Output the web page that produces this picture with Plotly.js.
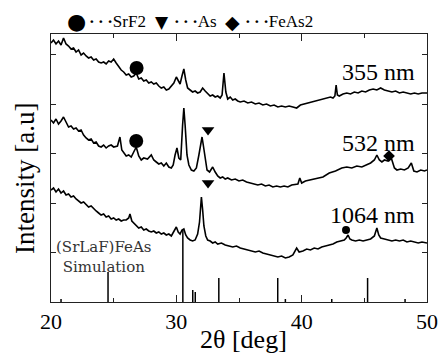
<!DOCTYPE html>
<html>
<head>
<meta charset="utf-8">
<script src="https://cdn.plot.ly/plotly-3.0.1.min.js"></script>
<style>html,body{margin:0;padding:0;background:#fff;}#chart{width:438px;height:353px;}</style>
</head>
<body>
<div id="chart"></div>
<script>
// ---- 355 nm pattern ----
const tt355 = [20.0,20.2,20.4,20.6,20.8,21.0,21.2,21.4,21.6,21.8,22.0,22.2,22.4,22.6,22.8,23.0,23.2,23.4,23.6,23.8,24.0,24.2,24.4,24.6,24.8,25.0,25.2,25.4,25.6,25.8,26.0,26.2,26.4,26.6,26.8,27.0,27.2,27.4,27.6,27.8,28.0,28.2,28.4,28.6,28.8,29.0,29.2,29.4,29.6,29.8,30.0,30.15,30.3,30.45,30.6,30.75,30.9,31.1,31.3,31.5,31.7,31.9,32.1,32.3,32.5,32.7,32.9,33.1,33.3,33.5,33.65,33.8,33.95,34.1,34.3,34.5,34.7,34.9,35.1,35.4,35.7,36.0,36.3,36.6,36.9,37.2,37.5,37.8,38.1,38.4,38.7,39.0,39.3,39.6,39.9,40.2,40.5,40.8,41.1,41.4,41.7,42.0,42.3,42.5,42.65,42.75,42.85,43.0,43.3,43.6,43.9,44.2,44.5,44.8,45.1,45.4,45.7,46.0,46.3,46.6,46.9,47.2,47.5,47.8,48.1,48.4,48.7,49.0,49.3,49.6,50.0];
const int355 = [259,262,258,261,257,264,258,256,253,254,250,252,247,249,246,244,245,242,243,240,239,240,238,241,240,243,239,235,232,230,227,228,225,226,229,223,224,221,222,219,220,218,219,216,214,215,212,213,216,219,225,222,218,226,233,222,214,212,210,211,209,210,214,211,208,206,207,205,206,204,207,229,210,203,205,202,203,201,200,201,199,200,198,199,197,198,196,197,195,196,195,196,195,194,197,198,199,200,201,202,203,204,205,204,206,217,207,206,208,209,208,210,209,211,210,212,213,212,214,212,211,210,211,209,210,209,208,209,208,209,209];

// ---- 532 nm pattern ----
const tt532 = [20.0,20.2,20.4,20.6,20.8,21.0,21.2,21.4,21.6,21.8,22.0,22.2,22.4,22.6,22.8,23.0,23.2,23.4,23.6,23.8,24.0,24.2,24.4,24.6,24.8,25.0,25.3,25.5,25.65,25.8,26.0,26.2,26.4,26.6,26.8,27.0,27.2,27.4,27.7,28.0,28.2,28.4,28.6,28.8,29.0,29.2,29.4,29.6,29.75,29.9,30.05,30.2,30.35,30.5,30.6,30.7,30.85,31.0,31.2,31.4,31.6,31.8,31.95,32.05,32.15,32.3,32.45,32.65,32.9,33.1,33.3,33.5,33.7,33.9,34.1,34.4,34.7,35.0,35.3,35.6,35.9,36.2,36.5,36.8,37.1,37.4,37.7,38.0,38.3,38.6,38.9,39.2,39.5,39.7,39.85,40.0,40.3,40.6,40.9,41.2,41.5,41.7,42.2,42.7,43.2,43.6,44.0,44.4,44.8,45.2,45.5,45.8,46.0,46.2,46.4,46.6,46.9,47.15,47.4,47.6,47.9,48.2,48.5,48.75,48.95,49.2,49.5,49.8,50.0];
const int532 = [182,179,183,178,181,185,180,175,176,173,174,171,172,167,164,162,163,159,160,156,155,157,154,156,157,155,156,165,152,149,146,147,145,150,155,146,142,144,143,147,142,140,138,139,136,139,135,134,137,147,154,144,142,177,194,177,147,137,132,131,134,147,160,165,157,142,132,130,135,130,126,124,125,123,124,122,123,121,122,120,119,118,117,118,116,117,115,116,115,116,115,117,118,118,124,119,121,122,123,124,125,125,129,131,134,135,134,136,135,137,139,142,147,142,140,142,141,144,134,132,133,132,134,139,131,130,132,131,132];

// ---- 1064 nm pattern ----
const tt1064 = [20.0,20.2,20.4,20.6,20.8,21.0,21.2,21.4,21.6,21.8,22.0,22.2,22.4,22.6,22.8,23.0,23.2,23.4,23.6,23.8,24.0,24.2,24.4,24.6,24.8,25.0,25.2,25.4,25.6,25.8,26.0,26.2,26.3,26.45,26.6,26.8,27.0,27.2,27.4,27.6,27.8,28.0,28.2,28.4,28.6,28.8,29.0,29.2,29.4,29.6,29.8,30.0,30.15,30.3,30.45,30.6,30.75,30.9,31.1,31.3,31.5,31.7,31.85,32.0,32.1,32.2,32.35,32.5,32.7,32.9,33.1,33.3,33.6,33.9,34.2,34.5,34.8,35.1,35.4,35.7,36.0,36.3,36.6,36.9,37.2,37.5,37.8,38.1,38.4,38.7,39.0,39.3,39.6,39.8,40.1,40.4,40.7,41.0,41.3,41.6,41.9,42.2,42.5,42.8,43.1,43.4,43.55,43.7,43.85,44.0,44.3,44.6,44.9,45.2,45.5,45.8,46.0,46.15,46.3,46.6,46.9,47.2,47.5,47.8,48.1,48.4,48.7,49.0,49.3,49.6,50.0];
const int1064 = [112,114,110,113,109,111,107,108,105,106,103,101,99,100,97,95,96,93,91,89,87,88,85,86,83,84,82,83,81,82,82,84,88,81,79,76,74,75,72,73,71,70,71,69,70,68,69,67,68,66,70,75,70,68,72,73,67,64,62,61,62,68,80,105,92,76,66,62,61,59,60,58,59,57,56,55,56,54,53,52,51,50,51,49,48,47,46,45,46,44,45,47,54,50,51,53,52,54,53,55,56,57,58,60,61,62,64,67,63,62,61,62,61,62,63,66,74,67,64,63,62,61,62,61,62,60,61,60,59,60,59];

// ---- (SrLaF)FeAs simulated reflections ----
const simTT  = [20.8, 24.55, 30.52, 31.31, 31.51, 33.39, 38.09, 38.7, 42.4, 45.26, 48.25];
const simInt = [3, 30, 72, 12, 10, 24, 24, 3, 3, 24, 3];

// ---- impurity peak marks ----
const srf2TT  = [26.83, 26.80];
const srf2Y   = [234, 161];
const srf2SmallTT = [43.54];
const srf2SmallY  = [72];
const asTT    = [32.53, 32.53];
const asY     = [172, 119];
const feas2TT = [46.97];
const feas2Y  = [146];

const curveLabels = ["355 nm", "532 nm", "1064 nm"];
const curveLabelY = [230, 159, 87];
const legendNames = ["SrF2", "As", "FeAs2"];

const serif = "'Liberation Serif'";
const line = {color: "#000", width: 1.6};

const stickX = [], stickY = [];
simTT.forEach((p, i) => { stickX.push(p, p, null); stickY.push(0, simInt[i], null); });

const traces = [
  {x: tt355, y: int355, mode: "lines", line: line, hoverinfo: "skip"},
  {x: tt532, y: int532, mode: "lines", line: line, hoverinfo: "skip"},
  {x: tt1064, y: int1064, mode: "lines", line: line, hoverinfo: "skip"},
  {x: stickX, y: stickY, mode: "lines", line: {color: "#000", width: 1.5}, hoverinfo: "skip"},
  {x: srf2TT, y: srf2Y, mode: "markers", marker: {symbol: "circle", size: 14, color: "#000"}, cliponaxis: false},
  {x: srf2SmallTT, y: srf2SmallY, mode: "markers", marker: {symbol: "circle", size: 8, color: "#000"}, cliponaxis: false},
  {x: asTT, y: asY, mode: "markers", marker: {symbol: "triangle-down", size: 11, color: "#000"}, cliponaxis: false},
  {x: feas2TT, y: feas2Y, mode: "markers", marker: {symbol: "diamond", size: 9, color: "#000"}, cliponaxis: false}
];

const annotations = [];
curveLabels.forEach((t, i) => annotations.push({
  text: t, x: 49.2, y: curveLabelY[i], xref: "x", yref: "y", xanchor: "right", yanchor: "middle",
  showarrow: false, font: {family: serif, size: 24, color: "#000"}
}));
annotations.push({
  text: "(SrLaF)FeAs<br>Simulation", x: 24.18, y: 45.5, xref: "x", yref: "y", xanchor: "center", yanchor: "middle",
  showarrow: false, align: "center", font: {family: "'DejaVu Serif'", size: 15, color: "#333"}
});
annotations.push({
  text: "Intensity [a.u]", x: -0.069, y: 0.459, xref: "paper", yref: "paper", xanchor: "center", yanchor: "middle",
  textangle: -90, showarrow: false, font: {family: serif, size: 27, color: "#000"}
});
annotations.push({
  text: "2θ [deg]", x: 0.512, y: -0.14, xref: "paper", yref: "paper", xanchor: "center", yanchor: "middle",
  showarrow: false, font: {family: serif, size: 26, color: "#000"}
});
const legSym = ["●", "▼", "◆"];
const legSymSize = [22, 17, 19];
const legSymX = [0.069, 0.295, 0.484];
const legTextX = [0.0957, 0.322, 0.511];
legendNames.forEach((n, i) => {
  annotations.push({
    text: legSym[i], x: legSymX[i], y: 1.045, xref: "paper", yref: "paper", xanchor: "center", yanchor: "middle",
    showarrow: false, font: {family: "'DejaVu Sans'", size: legSymSize[i], color: "#000"}
  });
  annotations.push({
    text: "<b>\u00b7\u2009\u00b7\u2009\u00b7</b>" + n, x: legTextX[i], y: 1.045, xref: "paper", yref: "paper", xanchor: "left", yanchor: "middle",
    showarrow: false, font: {family: serif, size: 17, color: "#000"}
  });
});

const axisCommon = {
  showgrid: false, zeroline: false, showline: true, linecolor: "#222", linewidth: 1,
  mirror: "ticks", ticks: "inside", tickcolor: "#222", tickwidth: 1
};

const layout = {
  width: 438, height: 353,
  margin: {l: 51, r: 11, t: 34, b: 51},
  paper_bgcolor: "#fff", plot_bgcolor: "#fff",
  showlegend: false,
  font: {family: serif},
  xaxis: Object.assign({}, axisCommon, {
    range: [20, 50], dtick: 10, tick0: 20, ticklen: 7,
    minor: {dtick: 5, ticklen: 4, ticks: "inside", tickcolor: "#222"},
    tickfont: {family: serif, size: 22, color: "#000"}
  }),
  yaxis: Object.assign({}, axisCommon, {
    range: [0, 268], tick0: 0, dtick: 49.5, ticklen: 5, showticklabels: false
  }),
  annotations: annotations
};

Plotly.newPlot("chart", traces, layout, {staticPlot: true, displayModeBar: false});
</script>
</body>
</html>
